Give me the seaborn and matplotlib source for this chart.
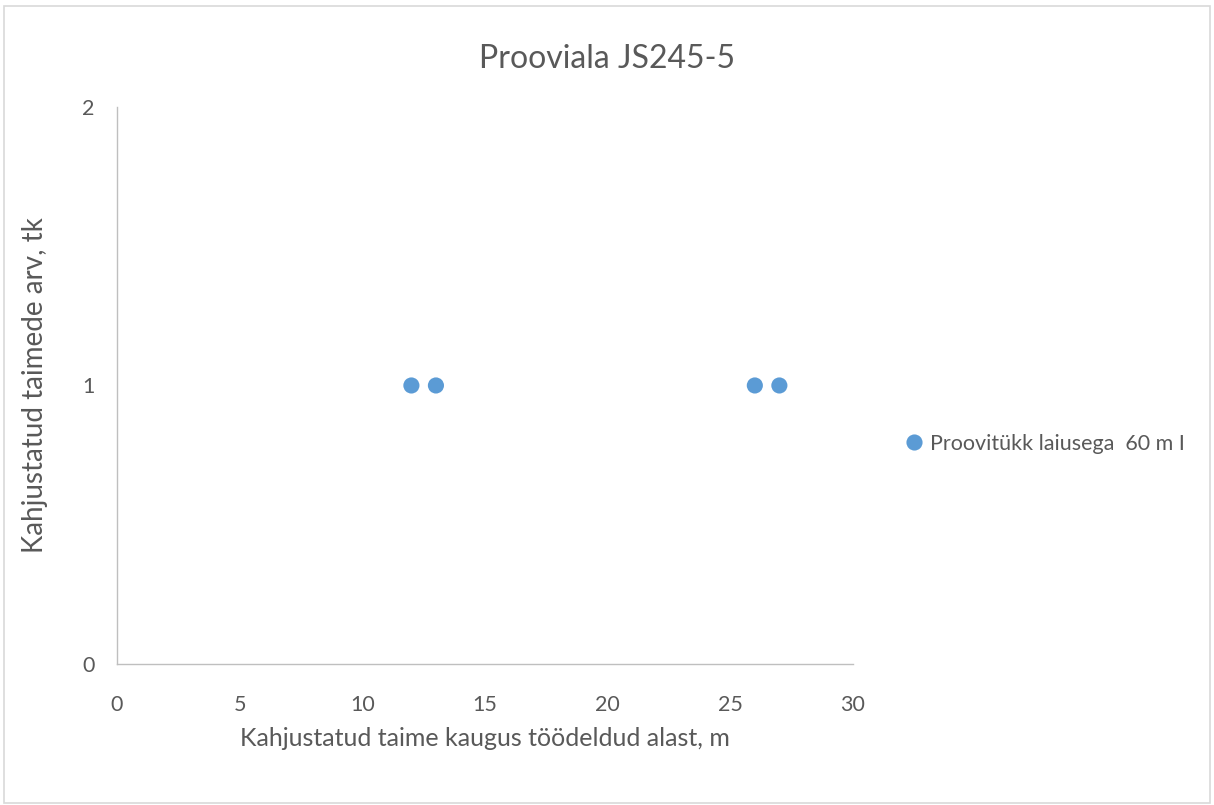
import matplotlib
matplotlib.use("Agg")
import matplotlib.pyplot as plt
import seaborn as sns
import pandas as pd
from matplotlib.patches import Rectangle

# Damaged plants by distance from the treated area
distance_m = [12, 13, 26, 27]
damaged_count = [1, 1, 1, 1]
series_name = "Proovitükk laiusega  60 m I"
x_ticks = [0, 5, 10, 15, 20, 25, 30]
y_ticks = [0, 1, 2]

df = pd.DataFrame({"x": distance_m, "y": damaged_count, "series": series_name})

sns.set_style("white")
plt.rcParams["font.family"] = ["Lato", "DejaVu Sans"]

text_grey = "#595959"
axis_grey = "#BFBFBF"
point_blue = "#5B9BD5"

fig = plt.figure(figsize=(12.14, 8.05), dpi=100)
ax = fig.add_axes([0.0964, 0.1752, 0.6062, 0.6919])

sns.scatterplot(data=df, x="x", y="y", hue="series", palette=[point_blue],
                s=135, edgecolor="none", ax=ax, legend=True)

ax.set_xlim(0, 30)
ax.set_ylim(0, 2)
ax.set_xticks(x_ticks)
ax.set_yticks(y_ticks)
ax.tick_params(axis="both", length=0, labelsize=15.5, colors=text_grey)
ax.tick_params(axis="x", pad=22)
ax.tick_params(axis="y", pad=16)
for side in ["top", "right"]:
    ax.spines[side].set_visible(False)
for side in ["left", "bottom"]:
    ax.spines[side].set_color(axis_grey)
    ax.spines[side].set_linewidth(1.0)

ax.set_xlabel("Kahjustatud taime kaugus töödeldud alast, m", fontsize=18,
              color=text_grey, labelpad=9)
ax.set_ylabel("Kahjustatud taimede arv, tk", fontsize=20,
              color=text_grey, labelpad=25)

fig.suptitle("Prooviala JS245-5", fontsize=23, color=text_grey,
             x=0.5, y=0.927, va="center")

handles, labels = ax.get_legend_handles_labels()
leg = ax.legend(handles, labels, loc="center left", bbox_to_anchor=(1.028, 0.395),
                frameon=False, fontsize=15.5, handletextpad=-0.3,
                markerscale=1.0, labelcolor=text_grey)

# Light outer chart frame
fig.patches.append(Rectangle((0.003, 0.002), 0.994, 0.99, transform=fig.transFigure,
                             fill=False, edgecolor="#D9D9D9", linewidth=1.2))

fig.savefig("out.png", dpi=100, facecolor="white")
